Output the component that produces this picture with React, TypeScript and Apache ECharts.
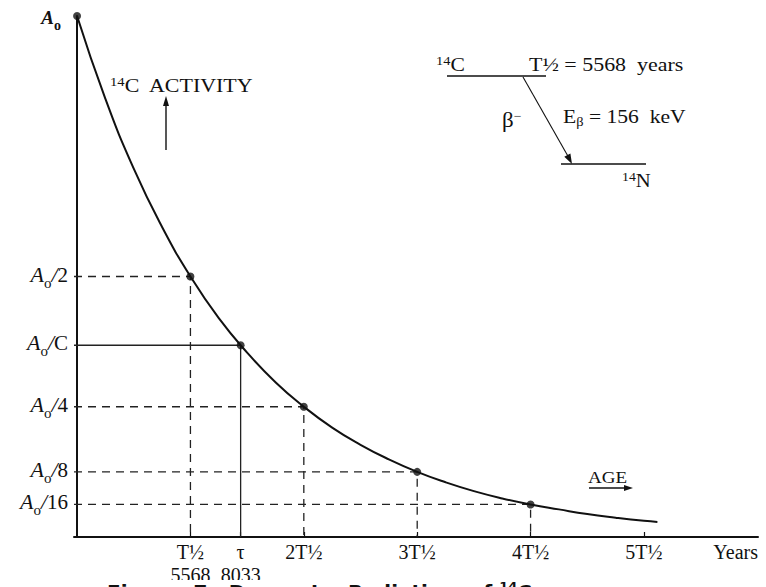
import React, { useEffect, useRef } from "react";
import * as echarts from "echarts";

// ---- data ----
const HALF_LIFE_YEARS = 5568;
const MEAN_LIFE_YEARS = 8033;

// decay curve (age in years, activity as fraction of A0)
const curveAges = [0, 1392, 2784, 4176, 5568, 6960, 8352, 9744, 11136, 12528, 13920, 15312, 16704, 18096, 19488, 20880, 22272, 23664, 25056, 26448, 27840, 28500];
const curveActivity = [1, 0.841, 0.707, 0.595, 0.5, 0.42, 0.354, 0.297, 0.25, 0.21, 0.177, 0.149, 0.125, 0.105, 0.088, 0.074, 0.0625, 0.053, 0.044, 0.037, 0.031, 0.029];

// marked points on the curve
const markAges = [0, HALF_LIFE_YEARS, MEAN_LIFE_YEARS, 11136, 16704, 22272];
const markActivity = [1, 0.5, 0.368, 0.25, 0.125, 0.0625];
const markSolid = [false, false, true, false, false, false];

// axis tick labels
const xTickValues = [5568, 8033, 11136, 16704, 22272, 27840];
const xTickLabels = ["T½\n5568", "τ\n8033", "2T½", "3T½", "4T½", "5T½"];
const yTickValues = [1, 0.5, 0.368, 0.25, 0.125, 0.0625];
const yTickSuffix = ["", "2", "C", "4", "8", "16"];

const X_MIN = -150;
const X_MAX = 33440;

const SERIF = "'Liberation Serif', 'DejaVu Serif', serif";
const INK = "#111";

export default function App() {
  const ref = useRef<HTMLDivElement>(null);

  useEffect(() => {
    if (!ref.current) return;
    const chart = echarts.init(ref.current, null, { renderer: "svg" });

    const guideSeries = markAges
      .map((age, i) => ({ age, v: markActivity[i], solid: markSolid[i] }))
      .filter((p) => p.age > 0)
      .map((p) => ({
        type: "line",
        data: [
          [X_MIN, p.v],
          [p.age, p.v],
          [p.age, 0],
        ],
        symbol: "none",
        silent: true,
        z: 2,
        lineStyle: {
          color: "#222",
          width: 1.3,
          type: p.solid ? "solid" : [8, 6],
        },
      }));

    const supRich = {
      s: { fontFamily: SERIF, fontSize: 12, verticalAlign: "top", lineHeight: 20, padding: [0, 0, 7, 0], color: INK },
      c: { fontFamily: SERIF, fontSize: 18, lineHeight: 20, color: INK },
    };

    const option: any = {
      animation: false,
      backgroundColor: "#fff",
      grid: { left: 74, right: 8, top: 16, bottom: 50, containLabel: false, outerBoundsMode: "none" },
      xAxis: {
        type: "value",
        min: X_MIN,
        max: X_MAX,
        name: "Years",
        nameLocation: "end",
        nameGap: 0,
        nameTextStyle: {
          fontFamily: SERIF,
          fontSize: 20,
          color: INK,
          align: "right",
          verticalAlign: "top",
          padding: [5, 0, 0, 0],
        },
        axisLine: { lineStyle: { color: INK, width: 2 } },
        axisTick: { show: true, inside: true, length: 5, customValues: xTickValues, lineStyle: { color: INK, width: 1.2 } },
        axisLabel: {
          customValues: xTickValues,
          margin: 3,
          fontFamily: SERIF,
          fontSize: 20,
          lineHeight: 23,
          color: INK,
          formatter: (val: number) => {
            const idx = xTickValues.indexOf(val);
            return idx >= 0 ? xTickLabels[idx] : "";
          },
        },
        splitLine: { show: false },
      },
      yAxis: {
        type: "value",
        min: 0,
        max: 1,
        axisLine: { lineStyle: { color: INK, width: 2 } },
        axisTick: { show: false },
        splitLine: { show: false },
        axisLabel: {
          customValues: yTickValues,
          margin: 6,
          color: INK,
          formatter: (val: number) => {
            const idx = yTickValues.indexOf(val);
            if (idx < 0) return "";
            const suf = yTickSuffix[idx];
            return suf ? `{a|A}{o|o}{sl|/}{t|${suf}}` : `{a0|A}{o0|o}`;
          },
          rich: {
            a: { fontFamily: SERIF, fontStyle: "italic", fontSize: 22, color: INK, verticalAlign: "bottom", padding: [0, 0, 5, 0] },
            o: { fontFamily: SERIF, fontSize: 15, color: INK, verticalAlign: "bottom", padding: [0, 0, 0, 0] },
            sl: { fontFamily: SERIF, fontStyle: "italic", fontSize: 22, color: INK, verticalAlign: "bottom", padding: [0, 0, 5, 0] },
            t: { fontFamily: SERIF, fontSize: 21, color: INK, verticalAlign: "bottom", padding: [0, 0, 5, 0] },
            a0: { fontFamily: SERIF, fontStyle: "italic", fontWeight: "bold", fontSize: 19, color: INK, verticalAlign: "bottom", padding: [8, 0, 5, 0] },
            o0: { fontFamily: SERIF, fontWeight: "bold", fontSize: 14, color: INK, verticalAlign: "bottom", padding: [0, 7, 0, 0] },
          },
        },
      },
      series: [
        {
          type: "line",
          data: curveAges.map((a, i) => [a, curveActivity[i]]),
          smooth: true,
          showSymbol: false,
          silent: true,
          z: 3,
          lineStyle: { color: INK, width: 2 },
        },
        ...guideSeries,
        {
          type: "scatter",
          data: markAges.map((a, i) => [a, markActivity[i]]),
          symbolSize: 8,
          silent: true,
          z: 4,
          itemStyle: { color: INK },
        },
      ],
      graphic: [
        // 14C ACTIVITY annotation
        {
          type: "text",
          x: 110,
          y: 86,
          scaleX: 1.22,
          z: 100,
          style: { text: "{s|14}{c|C  ACTIVITY}", rich: supRich, verticalAlign: "middle", fill: INK },
        },
        { type: "line", z: 100, shape: { x1: 166, y1: 150, x2: 166, y2: 103 }, style: { stroke: INK, lineWidth: 1.4 } },
        { type: "polygon", z: 100, shape: { points: [[163, 106], [166, 96], [169, 106]] }, style: { fill: INK } },

        // decay scheme
        {
          type: "text",
          x: 436,
          y: 65,
          scaleX: 1.2,
          z: 100,
          style: { text: "{s|14}{c|C}", rich: supRich, verticalAlign: "middle", fill: INK },
        },
        { type: "line", z: 100, shape: { x1: 447, y1: 76, x2: 546, y2: 76 }, style: { stroke: INK, lineWidth: 1.7 } },
        {
          type: "text",
          x: 529,
          y: 65,
          scaleX: 1.22,
          z: 100,
          style: { text: "T½ = 5568  years", font: `18px ${SERIF}`, verticalAlign: "middle", fill: INK },
        },
        { type: "line", z: 100, shape: { x1: 523, y1: 77, x2: 569, y2: 158 }, style: { stroke: INK, lineWidth: 1.1 } },
        { type: "polygon", z: 100, shape: { points: [[564.3, 156.8], [572, 164], [570.4, 153.4]] }, style: { fill: INK } },
        {
          type: "text",
          x: 502,
          y: 121,
          scaleX: 1.15,
          z: 100,
          style: {
            text: "{b|β}{m|−}",
            rich: {
              b: { fontFamily: SERIF, fontSize: 20, lineHeight: 22, color: INK },
              m: { fontFamily: SERIF, fontSize: 12, verticalAlign: "top", lineHeight: 22, padding: [0, 0, 12, 0], color: INK },
            },
            verticalAlign: "middle",
            fill: INK,
          },
        },
        {
          type: "text",
          x: 563,
          y: 118,
          scaleX: 1.2,
          z: 100,
          style: {
            text: "{e|E}{b|β}{e| = 156  keV}",
            rich: {
              e: { fontFamily: SERIF, fontSize: 18, verticalAlign: "top", lineHeight: 20, padding: [0, 0, 5, 0], color: INK },
              b: { fontFamily: SERIF, fontSize: 12, verticalAlign: "bottom", lineHeight: 14, padding: [0, 0, 0, 0], color: INK },
            },
            verticalAlign: "middle",
            fill: INK,
          },
        },
        { type: "line", z: 100, shape: { x1: 561, y1: 164, x2: 646, y2: 164 }, style: { stroke: INK, lineWidth: 1.7 } },
        {
          type: "text",
          x: 622,
          y: 181,
          scaleX: 1.15,
          z: 100,
          style: { text: "{s|14}{c|N}", rich: supRich, verticalAlign: "middle", fill: INK },
        },

        // AGE annotation
        {
          type: "text",
          x: 588,
          y: 477,
          scaleX: 1.12,
          z: 100,
          style: { text: "AGE", font: `17px ${SERIF}`, verticalAlign: "middle", fill: INK },
        },
        { type: "line", z: 100, shape: { x1: 589, y1: 488, x2: 626, y2: 488 }, style: { stroke: INK, lineWidth: 1.4 } },
        { type: "polygon", z: 100, shape: { points: [[624, 485], [633, 488], [624, 491]] }, style: { fill: INK } },

        // caption (cut off at page bottom)
        { type: "rect", z: 99, shape: { x: 0, y: 580, width: 766, height: 7 }, style: { fill: "#fff" } },
        {
          type: "text",
          x: 107,
          y: 580,
          z: 100,
          style: {
            text: "{t|Figure  7.  Decay  to  Radiation  of }{s|14}{t|C}",
            rich: {
              t: { fontFamily: "'DejaVu Sans', sans-serif", fontWeight: "bold", fontSize: 20, lineHeight: 24, color: INK },
              s: { fontFamily: "'DejaVu Sans', sans-serif", fontWeight: "bold", fontSize: 13, verticalAlign: "top", lineHeight: 24, padding: [0, 0, 8, 0], color: INK },
            },
            verticalAlign: "top",
            fill: INK,
          },
        },
      ],
    };

    chart.setOption(option);
    return () => chart.dispose();
  }, []);

  return (
    <div
      ref={ref}
      style={{ position: "fixed", left: 0, top: 0, width: 766, height: 587, background: "#fff" }}
    />
  );
}
